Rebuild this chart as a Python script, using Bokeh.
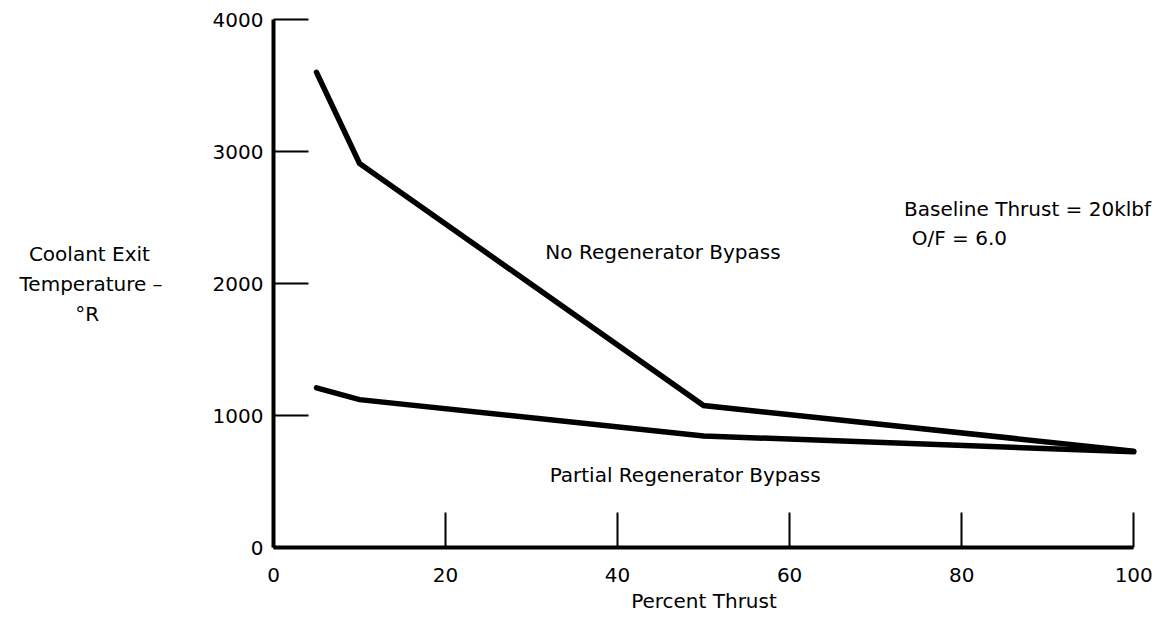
from bokeh.plotting import figure
from bokeh.models import Range1d, FixedTicker, Label
from bokeh.embed import file_html
from bokeh.resources import INLINE

# Data
thrust = [5, 10, 50, 100]
no_bypass = [3600, 2910, 1075, 730]
partial_bypass = [1210, 1120, 845, 725]

x_ticks = [0, 20, 40, 60, 80, 100]
y_ticks = [0, 1000, 2000, 3000, 4000]

FONT = "DejaVu Sans"
FS = "20px"
NB = "\u00a0"

# frame: 8.6 px per percent; extends a bit past 100 so that the note is not clipped
p = figure(width=1153, height=620, output_backend="svg", toolbar_location=None,
           x_range=Range1d(0, 102.3), y_range=Range1d(0, 4000),
           min_border_left=273, min_border_right=0, min_border_top=19, min_border_bottom=73)
p.grid.visible = False
p.outline_line_color = None
p.background_fill_color = "white"
p.border_fill_color = "white"

for ax in (p.xaxis[0], p.yaxis[0]):
    ax.axis_line_width = 4
    ax.axis_line_color = "black"
    ax.major_tick_in = 35
    ax.major_tick_out = 0
    ax.major_tick_line_color = "black"
    ax.major_tick_line_width = 2
    ax.minor_tick_line_color = None
    ax.major_label_text_font = FONT
    ax.major_label_text_font_size = FS
    ax.major_label_text_color = "black"

p.xaxis.bounds = (0, 100)
p.xaxis.ticker = FixedTicker(ticks=x_ticks)
p.yaxis.ticker = FixedTicker(ticks=y_ticks)
p.xaxis.major_label_standoff = 20
p.yaxis.major_label_standoff = 10
p.xaxis.axis_label = "Percent Thrust" + NB * 3
p.xaxis.axis_label_text_font = FONT
p.xaxis.axis_label_text_font_size = FS
p.xaxis.axis_label_text_font_style = "normal"
p.xaxis.axis_label_text_color = "black"
p.xaxis.axis_label_standoff = 4

p.yaxis.axis_label = ("Coolant Exit" + NB * 2 + "\nTemperature \u2013\n\u00b0R" + NB * 10)
p.yaxis.axis_label_orientation = "horizontal"
p.yaxis.axis_label_text_font = FONT
p.yaxis.axis_label_text_font_size = FS
p.yaxis.axis_label_text_font_style = "normal"
p.yaxis.axis_label_text_color = "black"
p.yaxis.axis_label_text_align = "center"
p.yaxis.axis_label_text_line_height = 1.25
p.yaxis.axis_label_standoff = 47

p.line(thrust, no_bypass, line_width=5.5, line_color="black", line_join="miter", line_cap="round")
p.line(thrust, partial_bypass, line_width=5.5, line_color="black", line_join="miter", line_cap="round")

def lab(x, y, t, align="left"):
    p.add_layout(Label(x=x, y=y, text=t, text_font=FONT, text_font_size=FS,
                       text_color="black", text_align=align, text_baseline="alphabetic"))

lab(31.6, 2240, "No Regenerator Bypass")
lab(32.1, 552, "Partial Regenerator Bypass")
lab(73.3, 2562, "Baseline Thrust = 20klbf")
lab(74.2, 2343, "O/F = 6.0")

open("out.html", "w").write(file_html(p, INLINE))
